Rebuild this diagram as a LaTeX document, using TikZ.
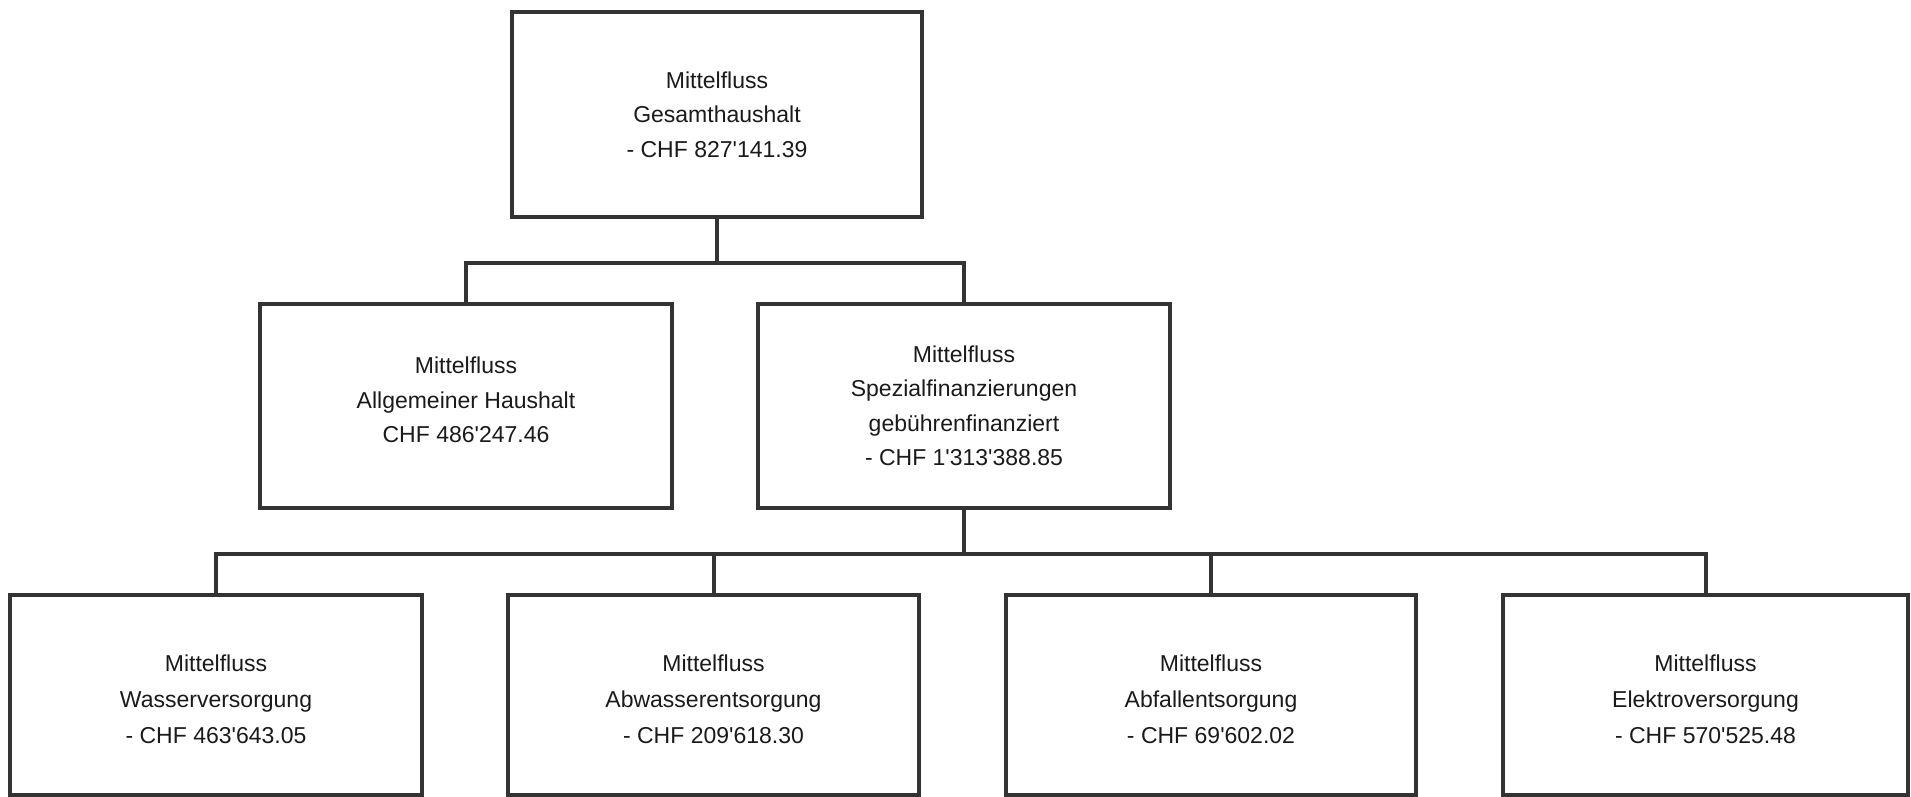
\documentclass[tikz,border=0pt]{standalone}
\usepackage{fontspec}
\setmainfont{Liberation Sans}
\definecolor{linec}{HTML}{333333}
\definecolor{textc}{HTML}{1A1A1A}
\newcommand{\ap}{\textquotesingle}
\begin{document}
\begin{tikzpicture}[x=1pt,y=-1pt,
  box/.style={draw=linec,line width=4pt,rectangle,minimum width=410pt,minimum height=204pt,inner sep=0pt},
  txt/.style={align=center,text=textc,inner sep=0pt,font=\fontsize{23}{34.5}\selectfont},
  lowtxt/.style={txt,font=\fontsize{23}{36}\selectfont},
  conn/.style={draw=linec,line width=4pt}]
\useasboundingbox (0,0) rectangle (1911,797);
\node[box,minimum height=205pt] (top) at (717,114.5) {};
\node[box,minimum width=412pt] (ml) at (466,406) {};
\node[box,minimum width=412pt] (mr) at (964,406) {};
\node[box,minimum width=412pt,minimum height=200pt] (b1) at (216,695) {};
\node[box,minimum width=411pt,minimum height=200pt] (b2) at (713.5,695) {};
\node[box,minimum height=200pt] (b3) at (1211,695) {};
\node[box,minimum width=405pt,minimum height=200pt] (b4) at (1705.5,695) {};
\node[txt] (ttop) at (top.center) {Mittelfluss\\Gesamthaushalt\\- CHF 827\ap141.39};
\node[txt] (tml) at ([yshift=6pt]ml.center) {Mittelfluss\\Allgemeiner Haushalt\\CHF 486\ap247.46};
\node[txt] (tmr) at (mr.center) {Mittelfluss\\Spezialfinanzierungen\\gebührenfinanziert\\- CHF 1\ap313\ap388.85};
\node[lowtxt] (tb1) at ([yshift=-4pt]b1.center) {Mittelfluss\\Wasserversorgung\\- CHF 463\ap643.05};
\node[lowtxt] (tb2) at ([yshift=-4pt]b2.center) {Mittelfluss\\Abwasserentsorgung\\- CHF 209\ap618.30};
\node[lowtxt] (tb3) at ([yshift=-4pt]b3.center) {Mittelfluss\\Abfallentsorgung\\- CHF 69\ap602.02};
\node[lowtxt] (tb4) at ([yshift=-4pt]b4.center) {Mittelfluss\\Elektroversorgung\\- CHF 570\ap525.48};
\coordinate (j1) at ([yshift=-44pt]top.south);
\coordinate (j2) at ([yshift=-44pt]mr.south);
\draw[conn] (top.south) -- (j1);
\draw[conn] (j1) -| (ml.north);
\draw[conn] (j1) -| (mr.north);
\draw[conn] (mr.south) -- (j2);
\draw[conn] (j2) -| (b1.north);
\draw[conn] (j2) -| (b2.north);
\draw[conn] (j2) -| (b3.north);
\draw[conn] (j2) -| (b4.north);
\end{tikzpicture}
\end{document}
